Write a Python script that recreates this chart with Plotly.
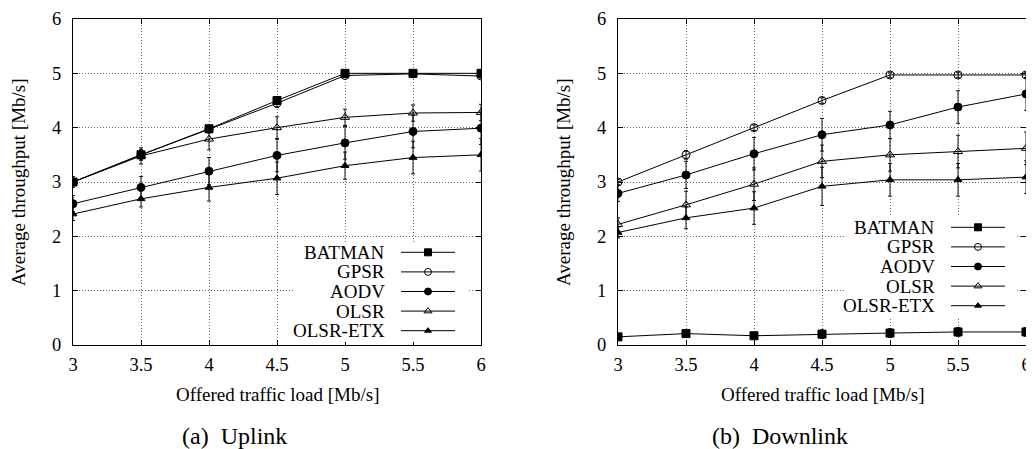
import plotly.graph_objects as go

load = [3, 3.5, 4, 4.5, 5, 5.5, 6]
protocols = ["BATMAN", "GPSR", "AODV", "OLSR", "OLSR-ETX"]

# Uplink
up_batman = [3.0, 3.5, 3.98, 4.50, 5.00, 5.00, 5.00]
up_gpsr   = [3.0, 3.5, 3.97, 4.45, 4.96, 4.99, 4.95]
up_aodv   = [2.60, 2.90, 3.20, 3.49, 3.72, 3.93, 3.99]
up_olsr   = [3.00, 3.48, 3.79, 4.00, 4.19, 4.27, 4.28]
up_etx    = [2.41, 2.69, 2.90, 3.07, 3.30, 3.45, 3.50]
up_batman_err = [0.05, 0.08, 0.05, 0.05, 0.03, 0.03, 0.03]
up_gpsr_err   = [0.05, 0.10, 0.06, 0.08, 0.04, 0.03, 0.04]
up_aodv_err   = [0.15, 0.20, 0.25, 0.30, 0.30, 0.30, 0.30]
up_olsr_err   = [0.10, 0.15, 0.20, 0.20, 0.15, 0.15, 0.15]
up_etx_err    = [0.12, 0.15, 0.25, 0.30, 0.25, 0.30, 0.30]

# Downlink
dn_batman = [0.15, 0.21, 0.17, 0.20, 0.22, 0.24, 0.24]
dn_gpsr   = [3.00, 3.50, 4.00, 4.50, 4.97, 4.97, 4.97]
dn_aodv   = [2.79, 3.13, 3.52, 3.87, 4.05, 4.38, 4.62]
dn_olsr   = [2.22, 2.58, 2.96, 3.38, 3.50, 3.56, 3.62]
dn_etx    = [2.07, 2.34, 2.52, 2.92, 3.04, 3.04, 3.09]
dn_batman_err = [0.05, 0.06, 0.06, 0.08, 0.08, 0.08, 0.08]
dn_gpsr_err   = [0.05, 0.08, 0.05, 0.05, 0.05, 0.05, 0.05]
dn_aodv_err   = [0.15, 0.25, 0.30, 0.30, 0.25, 0.30, 0.30]
dn_olsr_err   = [0.12, 0.25, 0.30, 0.30, 0.30, 0.30, 0.30]
dn_etx_err    = [0.10, 0.20, 0.30, 0.35, 0.30, 0.30, 0.30]

x_ticks = [3, 3.5, 4, 4.5, 5, 5.5, 6]
y_ticks = [0, 1, 2, 3, 4, 5, 6]
x_title = "Offered traffic load [Mb/s]"
y_title = "Average throughput [Mb/s]"
captions = ["(a)  Uplink", "(b)  Downlink"]

# marker style per protocol: (symbol, plot size, legend size)
symbols = {"BATMAN": ("square", 8, 7), "GPSR": ("circle-open", 8, 7), "AODV": ("circle", 8, 7),
           "OLSR": ("triangle-up-open", 8, 7), "OLSR-ETX": ("triangle-up", 7, 6)}

FONT = "Liberation Serif, Times New Roman, Times, serif"
W, H = 1034, 449
OFF = 8  # page body margin
def px_x(s): return (s - OFF) / W
def px_y(s): return 1 - (s - OFF) / H

T, B = 19, 345
X_RANGE, Y_RANGE = [3, 6], [0, 6]
panels_px = [(73, 481), (618, 1026)]
legend_box = [(295, 467, 242, 342), (845, 1015, 217, 317)]  # left, right, top, bottom (px)
legend_text_right = 92
legend_line = (106, 160)
legend_row0, legend_row_step = 10.3, 19.6

fig = go.Figure()
series_sets = [
    ([up_batman, up_gpsr, up_aodv, up_olsr, up_etx],
     [up_batman_err, up_gpsr_err, up_aodv_err, up_olsr_err, up_etx_err]),
    ([dn_batman, dn_gpsr, dn_aodv, dn_olsr, dn_etx],
     [dn_batman_err, dn_gpsr_err, dn_aodv_err, dn_olsr_err, dn_etx_err]),
]

axis_common = dict(
    showline=True, linecolor="black", linewidth=1, mirror="ticks",
    ticks="inside", ticklen=5, tickcolor="black", automargin=False,
    showgrid=True, gridcolor="#666", griddash="1px,2px", gridwidth=1,
    zeroline=False, tickfont=dict(family=FONT, size=18.5, color="black"),
)
layout = dict(
    width=W, height=H, margin=dict(l=0, r=0, t=0, b=0),
    paper_bgcolor="white", plot_bgcolor="white", showlegend=False,
    font=dict(family=FONT, size=18, color="black"),
)

for k, ((series, errs), (L, R), box) in enumerate(zip(series_sets, panels_px, legend_box)):
    n = k + 1
    xa, ya = ("x", "y") if n == 1 else (f"x{n}", f"y{n}")
    lx, ly = f"x{n + 2}", f"y{n + 2}"
    # white legend background: between gridlines and traces of the panel
    bl, br, bt, bb = box
    def dx(p): return X_RANGE[0] + (p - L) / (R - L) * (X_RANGE[1] - X_RANGE[0])
    def dy(p): return Y_RANGE[0] + (B - p) / (B - T) * (Y_RANGE[1] - Y_RANGE[0])
    fig.add_shape(type="rect", xref=xa, yref=ya, layer="between",
                  x0=dx(bl), x1=dx(br), y0=dy(bb), y1=dy(bt),
                  fillcolor="white", line=dict(width=0))
    for name, vals, err in zip(protocols, series, errs):
        sym, sz, _ = symbols[name]
        fig.add_trace(go.Scatter(
            x=load, y=vals, name=name, mode="lines+markers", xaxis=xa, yaxis=ya,
            line=dict(color="black", width=1),
            marker=dict(symbol=sym, size=sz, color="black", line=dict(color="black", width=1)),
            error_y=dict(type="data", array=err, visible=True, color="black", thickness=0.9, width=2),
        ))
    xkey = "xaxis" if n == 1 else f"xaxis{n}"
    ykey = "yaxis" if n == 1 else f"yaxis{n}"
    layout[xkey] = dict(axis_common, domain=[px_x(L), px_x(R)], range=X_RANGE, tickvals=x_ticks,
                        ticktext=[f"{v:g}" for v in x_ticks], anchor=ya, ticklabelstandoff=3)
    layout[ykey] = dict(axis_common, domain=[px_y(B), px_y(T)], range=Y_RANGE, tickvals=y_ticks,
                        anchor=xa, ticklabelstandoff=7)

    # custom legend (text left, sample right) in its own hidden subplot
    layout[f"xaxis{n + 2}"] = dict(domain=[px_x(bl), px_x(br)], range=[0, br - bl], visible=False,
                                   anchor=ly, fixedrange=True)
    layout[f"yaxis{n + 2}"] = dict(domain=[px_y(bb), px_y(bt)], range=[bb - bt, 0], visible=False,
                                   anchor=lx, fixedrange=True)
    for i, name in enumerate(protocols):
        sym, _, lsz = symbols[name]
        yy = legend_row0 + i * legend_row_step
        mid = (legend_line[0] + legend_line[1]) / 2
        fig.add_trace(go.Scatter(x=list(legend_line), y=[yy, yy], mode="lines", xaxis=lx, yaxis=ly,
                                 line=dict(color="black", width=1), hoverinfo="skip"))
        fig.add_trace(go.Scatter(x=[mid], y=[yy], mode="markers", xaxis=lx, yaxis=ly,
                                 marker=dict(symbol=sym, size=lsz, color="black",
                                             line=dict(color="black", width=1)), hoverinfo="skip"))
        fig.add_annotation(text=name, x=legend_text_right, y=yy, xref=lx, yref=ly, showarrow=False,
                           xanchor="right", yanchor="middle",
                           font=dict(family=FONT, size=19, color="black"))

    # axis titles and captions
    fig.add_annotation(text=y_title, x=px_x(L - 55), y=px_y((T + B) / 2), xref="paper", yref="paper",
                       showarrow=False, textangle=-90, xanchor="center", yanchor="middle",
                       font=dict(family=FONT, size=19, color="black"))
    fig.add_annotation(text=x_title, x=px_x((L + R) / 2), y=px_y(394), xref="paper", yref="paper",
                       showarrow=False, xanchor="center", yanchor="middle",
                       font=dict(family=FONT, size=19, color="black"))
    fig.add_annotation(text=captions[k], x=px_x((L + R) / 2 - 42.5), y=px_y(436), xref="paper",
                       yref="paper", showarrow=False, xanchor="center", yanchor="middle",
                       font=dict(family=FONT, size=24, color="black"))

fig.update_layout(**layout)
fig.write_html("out.html")
